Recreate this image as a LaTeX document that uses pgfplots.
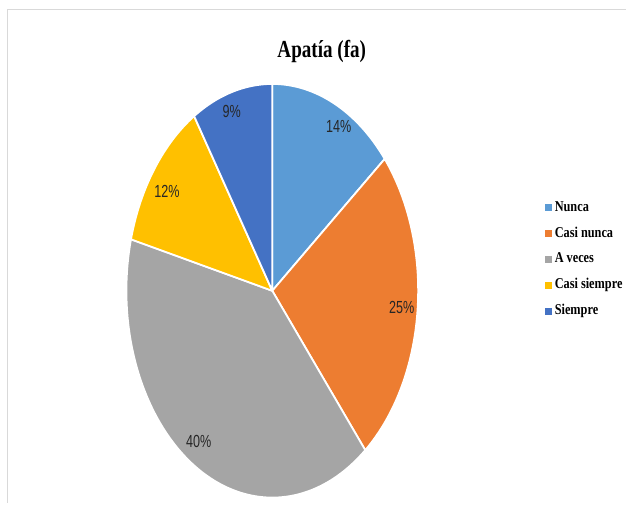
\documentclass[border=0pt]{standalone}
\usepackage{pgfplots}
\pgfplotsset{compat=1.18}
\usepackage{fontspec}
\setmainfont{Liberation Serif}
\newfontfamily\labfont[FakeStretch=0.72]{Liberation Sans}
\newfontfamily\titfont[FakeStretch=0.78]{Liberation Serif}
\newfontfamily\legfont[FakeStretch=0.82]{Liberation Serif}
\definecolor{c1}{HTML}{5B9BD5}
\definecolor{c2}{HTML}{ED7D31}
\definecolor{c3}{HTML}{A5A5A5}
\definecolor{c4}{HTML}{FFC000}
\definecolor{c5}{HTML}{4472C4}
% slice: colour, cumulative percent before, percent
\newcommand\slice[3]{%
  \fill[#1, draw=white, line width=1.8bp, line join=round]
    (axis cs:272.5,212) -- ++({90-3.6*#2}:146bp and 207bp)
    arc[start angle={90-3.6*#2}, delta angle={-3.6*#3}, x radius=146bp, y radius=207bp] -- cycle;}
\begin{document}
\begin{tikzpicture}
\begin{axis}[
  scale only axis, width=626bp, height=503bp,
  xmin=0, xmax=626, ymin=0, ymax=503,
  hide axis, clip=false,
  legend style={draw=none, fill=none, at={(axis cs:542,304)}, anchor=north west,
    font=\legfont\bfseries\fontsize{15bp}{17bp}\selectfont,
    nodes={inner sep=0pt, text height=10bp, text depth=3bp},
    row sep=13bp, column sep=0pt},
  legend cell align=left,
  legend image code/.code={\fill[#1] (0bp,-3.5bp) rectangle (7bp,3.5bp);},
]
\path (axis cs:0,0) rectangle (axis cs:626,503);
\draw[black!15, line width=1bp] (axis cs:8,0) -- (axis cs:8,493) -- (axis cs:626,493);
\slice{c1}{0}{14}
\slice{c2}{14}{25}
\slice{c3}{39}{40}
\slice{c4}{79}{12}
\slice{c5}{91}{9}
\addlegendimage{fill=c1, draw=none}\addlegendentry{\hspace{3bp}Nunca}
\addlegendimage{fill=c2, draw=none}\addlegendentry{\hspace{3bp}Casi nunca}
\addlegendimage{fill=c3, draw=none}\addlegendentry{\hspace{3bp}A veces}
\addlegendimage{fill=c4, draw=none}\addlegendentry{\hspace{3bp}Casi siempre}
\addlegendimage{fill=c5, draw=none}\addlegendentry{\hspace{3bp}Siempre}
\begin{scope}[every node/.style={font=\labfont\fontsize{17.5bp}{20bp}\selectfont, text=black!85}]
\node at (axis cs:339,376) {14\%};
\node at (axis cs:402,195) {25\%};
\node at (axis cs:199,61) {40\%};
\node at (axis cs:167,311) {12\%};
\node at (axis cs:232,391) {9\%};
\end{scope}
\node[font=\titfont\bfseries\fontsize{24.5bp}{28bp}\selectfont] at (axis cs:322,451) {Apatía (fa)};
\end{axis}
\end{tikzpicture}
\end{document}
